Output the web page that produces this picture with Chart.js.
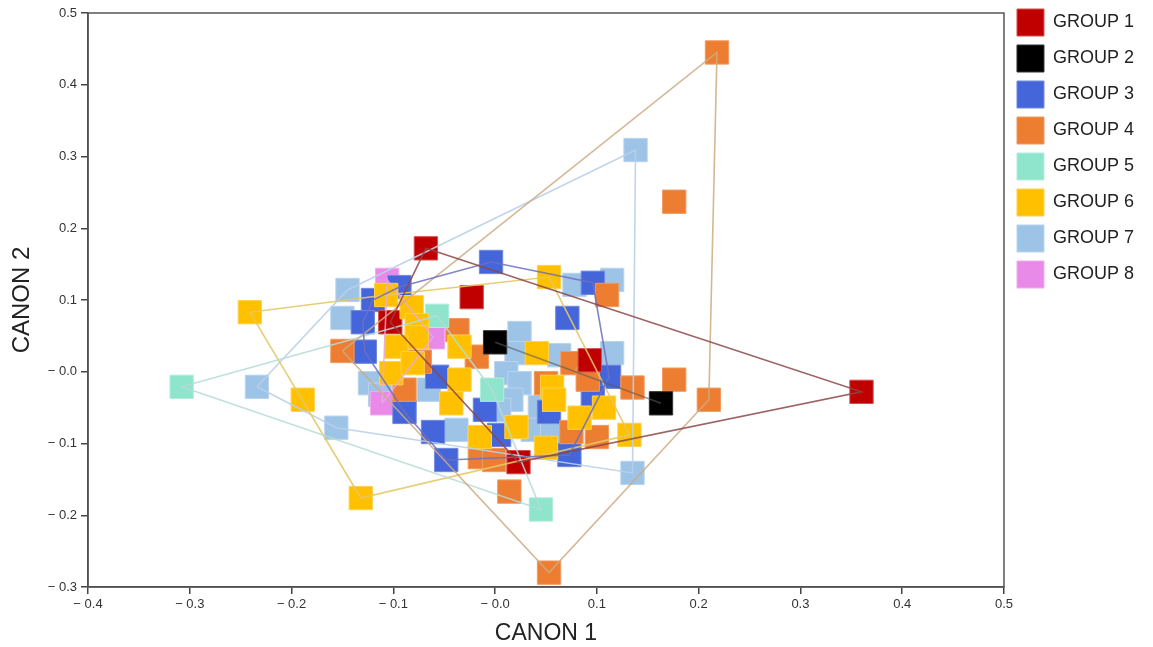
<!DOCTYPE html>
<html>
<head>
<meta charset="utf-8">
<title>CANON 1 / CANON 2</title>
<script src="https://cdn.jsdelivr.net/npm/chart.js@4.4.1/dist/chart.umd.min.js"></script>
<style>
  html, body { margin: 0; padding: 0; background: #fff; }
  canvas { display: block; }
</style>
</head>
<body>
<canvas id="canonChart" width="1153" height="647"></canvas>
<script>
const groupNames = ['GROUP 1', 'GROUP 2', 'GROUP 3', 'GROUP 4', 'GROUP 5', 'GROUP 6', 'GROUP 7', 'GROUP 8'];

// [canon1, canon2]
const group1 = [[-0.068, 0.172], [-0.023, 0.104], [-0.103, 0.069], [0.093, 0.016], [0.023, -0.126], [0.360, -0.028]];
const group2 = [[0.000, 0.041], [0.163, -0.044]];
const group3 = [[-0.004, 0.153], [0.096, 0.124], [0.071, 0.075], [-0.094, 0.118], [-0.120, 0.100], [-0.130, 0.069],
                [-0.128, 0.028], [-0.057, -0.007], [-0.089, -0.056], [-0.061, -0.084], [-0.048, -0.123], [0.112, -0.007],
                [0.096, -0.035], [0.073, -0.116], [0.053, -0.056], [-0.010, -0.053], [0.004, -0.088]];
const group4 = [[0.218, 0.445], [0.176, 0.237], [0.210, -0.039], [0.176, -0.011], [0.135, -0.022], [0.110, 0.107],
                [0.053, -0.280], [0.014, -0.167], [-0.150, 0.029], [-0.037, 0.058], [-0.089, -0.025], [-0.074, 0.014],
                [0.076, 0.012], [-0.018, 0.021], [0.050, -0.016], [0.100, -0.091], [0.075, -0.084], [-0.015, -0.119],
                [-0.001, -0.123], [0.091, -0.011]];
const group5 = [[-0.308, -0.021], [0.045, -0.192], [-0.057, 0.078], [-0.003, -0.025]];
const group6 = [[-0.241, 0.083], [-0.189, -0.039], [-0.132, -0.176], [0.053, 0.132], [0.132, -0.088], [0.107, -0.050],
                [-0.107, 0.107], [-0.082, 0.090], [-0.077, 0.065], [-0.077, 0.048], [-0.097, 0.035], [-0.102, -0.002],
                [-0.081, 0.012], [-0.035, 0.035], [-0.035, -0.011], [-0.043, -0.044], [-0.015, -0.091], [0.021, -0.077],
                [0.041, 0.026], [0.056, -0.021], [0.058, -0.039], [0.083, -0.064], [0.050, -0.106]];
const group7 = [[0.138, 0.309], [0.135, -0.141], [-0.234, -0.021], [-0.156, -0.078], [-0.145, 0.114], [-0.150, 0.075],
                [-0.123, -0.016], [-0.113, -0.032], [0.115, 0.128], [0.078, 0.121], [0.115, 0.026], [0.024, 0.054],
                [0.021, 0.026], [0.011, -0.002], [0.024, -0.016], [0.016, -0.039], [0.004, -0.053], [0.044, -0.049],
                [0.037, -0.081], [0.056, -0.086], [-0.038, -0.081], [-0.065, -0.025], [0.063, 0.023]];
const group8 = [[-0.106, 0.128], [-0.061, 0.048], [-0.111, -0.044]];

const groups = [group1, group2, group3, group4, group5, group6, group7, group8];

const xTickValues = [-0.4, -0.3, -0.2, -0.1, 0.0, 0.1, 0.2, 0.3, 0.4, 0.5];
const yTickValues = [-0.3, -0.2, -0.1, 0.0, 0.1, 0.2, 0.3, 0.4, 0.5];

// styles
const fillColors = ['#C00000', '#000000', '#4466DA', '#ED7D31', '#8FE5CC', '#FFC000', '#9DC3E6', '#E98AE9'];
const edgeColors = ['#D45050', '#333333', '#6F89E0', '#F19A60', '#B2EDDB', '#FFD24D', '#B9D4EE', '#F0ACF0'];
const hullColors = ['rgba(140,70,70,0.85)', 'rgba(90,90,90,0.6)', 'rgba(110,110,190,0.85)', 'rgba(205,170,130,0.85)',
                    'rgba(180,220,215,0.85)', 'rgba(228,200,100,0.9)', 'rgba(185,208,232,0.9)', 'rgba(230,170,230,0.8)'];
const drawOrder = [2, 2, 6, 5, 3, 1, 7, 6.5];

function convexHull(pts) {
    const p = pts.slice().sort((a, b) => a[0] - b[0] || a[1] - b[1]);
    if (p.length < 3) return p;
    const cross = (o, a, b) => (a[0] - o[0]) * (b[1] - o[1]) - (a[1] - o[1]) * (b[0] - o[0]);
    const lower = [];
    for (const q of p) {
        while (lower.length >= 2 && cross(lower[lower.length - 2], lower[lower.length - 1], q) <= 0) lower.pop();
        lower.push(q);
    }
    const upper = [];
    for (let i = p.length - 1; i >= 0; i--) {
        const q = p[i];
        while (upper.length >= 2 && cross(upper[upper.length - 2], upper[upper.length - 1], q) <= 0) upper.pop();
        upper.push(q);
    }
    upper.pop();
    lower.pop();
    return lower.concat(upper);
}

function tickText(v) {
    const s = Math.abs(v).toFixed(1);
    return v > 0.0001 ? s : '\u2212 ' + s;
}

const pointSets = groups.map((g, i) => ({
    label: groupNames[i],
    data: g.map(p => ({ x: p[0], y: p[1] })),
    backgroundColor: fillColors[i],
    borderColor: edgeColors[i],
    borderWidth: 1,
    pointStyle: 'rect',
    pointRadius: 16.5,
    pointHoverRadius: 16.5,
    order: drawOrder[i]
}));

const hullSets = groups.map((g, i) => {
    const h = convexHull(g);
    h.push(h[0]);
    return {
        label: 'hull ' + (i + 1),
        data: h.map(p => ({ x: p[0], y: p[1] })),
        showLine: true,
        fill: false,
        borderColor: hullColors[i],
        borderWidth: 1.6,
        pointRadius: 0,
        pointHoverRadius: 0,
        tension: 0,
        order: 0
    };
});

// frame round the plot area
const frameBox = {
    id: 'frameBox',
    afterDraw(chart) {
        const a = chart.chartArea;
        const c = chart.ctx;
        c.save();
        c.strokeStyle = '#555';
        c.lineWidth = 1.5;
        c.strokeRect(a.left, a.top, a.right - a.left, a.bottom - a.top);
        c.restore();
    }
};

const ctx = document.getElementById('canonChart').getContext('2d');
const canonChart = new Chart(ctx, {
    type: 'scatter',
    data: { datasets: pointSets.concat(hullSets) },
    options: {
        responsive: false,
        animation: false,
        layout: { autoPadding: false, padding: { top: 0, right: 9, bottom: 0, left: 0 } },
        plugins: {
            tooltip: { enabled: false },
            title: {
                display: true,
                text: '',
                fullSize: false,
                padding: 0,
                font: { size: 10, lineHeight: 1.3 }
            },
            legend: {
                position: 'right',
                align: 'start',
                labels: {
                    boxWidth: 27,
                    boxHeight: 27,
                    padding: 9,
                    color: '#222',
                    font: { family: '"Liberation Sans", Arial, sans-serif', size: 18 },
                    filter: item => item.datasetIndex < 8,
                    sort: (a, b) => a.datasetIndex - b.datasetIndex
                }
            }
        },
        scales: {
            x: {
                type: 'linear',
                min: -0.4,
                max: 0.5,
                afterBuildTicks: scale => { scale.ticks = xTickValues.map(v => ({ value: v })); },
                afterFit: scale => { scale.height = 60; },
                grid: { drawOnChartArea: false, drawTicks: true, tickLength: 7, color: '#444', lineWidth: 1.5 },
                border: { display: true, color: '#444', width: 1.5 },
                ticks: {
                    callback: v => tickText(v),
                    color: '#333',
                    padding: 3,
                    maxRotation: 0,
                    font: { family: '"Liberation Sans", Arial, sans-serif', size: 13 }
                },
                title: {
                    display: true,
                    text: 'CANON 1',
                    color: '#222',
                    padding: 0,
                    font: { family: '"Liberation Sans", Arial, sans-serif', size: 23 }
                }
            },
            y: {
                type: 'linear',
                min: -0.3,
                max: 0.5,
                afterBuildTicks: scale => { scale.ticks = yTickValues.map(v => ({ value: v })); },
                afterFit: scale => {
                    scale.width = 88;
                    scale.paddingTop = 0;
                    scale.paddingBottom = 0;
                },
                grid: { drawOnChartArea: false, drawTicks: true, tickLength: 7, color: '#444', lineWidth: 1.5 },
                border: { display: true, color: '#444', width: 1.5 },
                ticks: {
                    callback: v => tickText(v),
                    color: '#333',
                    padding: 4,
                    font: { family: '"Liberation Sans", Arial, sans-serif', size: 13 }
                },
                title: {
                    display: true,
                    text: 'CANON 2',
                    color: '#222',
                    padding: { top: 8, bottom: 0 },
                    font: { family: '"Liberation Sans", Arial, sans-serif', size: 24 }
                }
            },
            // empty strip between plot frame and legend
            gap: {
                type: 'linear',
                position: 'right',
                display: true,
                afterFit: scale => {
                    scale.width = 4;
                    scale.paddingTop = 0;
                    scale.paddingBottom = 0;
                },
                grid: { display: false },
                border: { display: false },
                ticks: { display: false },
                title: { display: false }
            }
        }
    },
    plugins: [frameBox]
});
</script>
</body>
</html>
